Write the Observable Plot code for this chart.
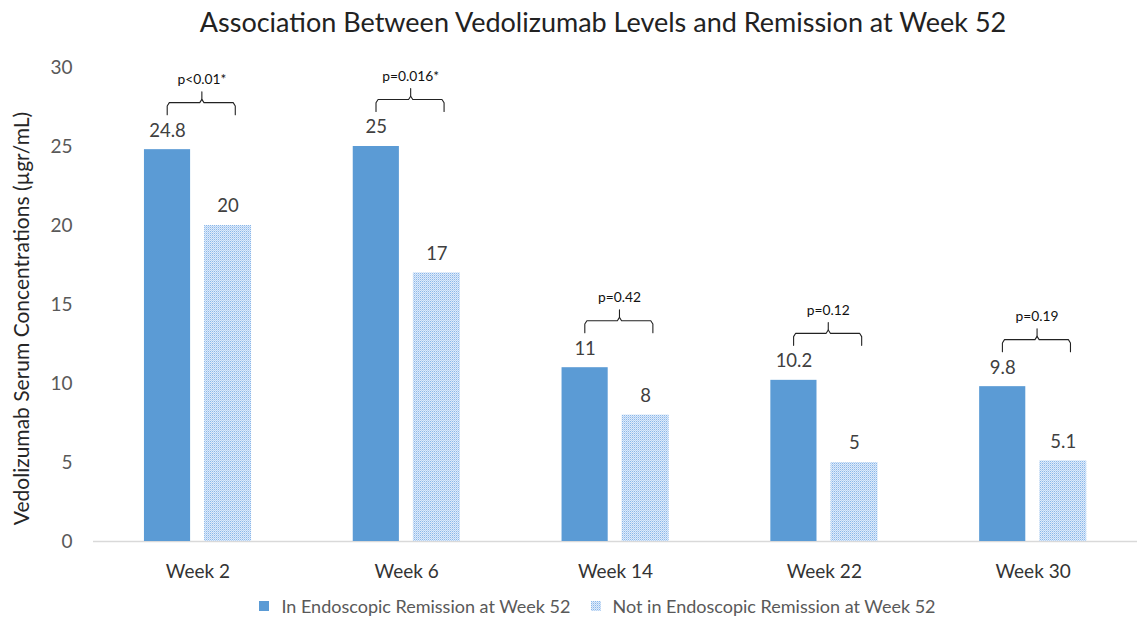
<!DOCTYPE html>
<html><head><meta charset="utf-8">
<script src="https://cdn.jsdelivr.net/npm/d3@7"></script>
<script src="https://cdn.jsdelivr.net/npm/@observablehq/plot@0.6"></script>
<style>
body{margin:0;background:#fff;font-family:Lato,sans-serif;}
#wrap{position:relative;width:1137px;height:622px;overflow:hidden;}
#title{height:45px;line-height:44px;text-align:center;font-size:27px;color:#222;padding-left:69px;box-sizing:border-box;}
#chart svg{display:block;}
#legend{position:absolute;top:590px;left:58px;right:0;height:32px;display:flex;justify-content:center;align-items:center;font-size:18px;color:#595959;}
.sw{width:10px;height:10px;margin-right:12px;display:inline-block;}
.item{display:flex;align-items:center;margin:0 10px;}
</style></head>
<body>
<div id="wrap">
<div id="title">Association Between Vedolizumab Levels and Remission at Week 52</div>
<div id="chart"></div>
<div id="legend"></div>
</div>
<script>
const weeks = ["Week 2", "Week 6", "Week 14", "Week 22", "Week 30"];
const inRemission = [24.8, 25, 11, 10.2, 9.8];
const notInRemission = [20, 17, 8, 5, 5.1];
const pValues = ["p<0.01*", "p=0.016*", "p=0.42", "p=0.12", "p=0.19"];
const seriesNames = ["In Endoscopic Remission at Week 52", "Not in Endoscopic Remission at Week 52"];
const yLabel = "Vedolizumab Serum Concentrations (µgr/mL)";

const darkColor = "#5B9BD5";
const lightFill = "url(#dots)";

// layout offsets within each week band (in band units)
const bandOff = [[-0.256, -0.035], [0.032, 0.257]];

const rows = [];
weeks.forEach((w, i) => {
  rows.push({week: w, i, s: 0, value: inRemission[i]});
  rows.push({week: w, i, s: 1, value: notInRemission[i]});
});

// curly braces built from each week's taller bar
const L = -0.147, R = 0.179, C = 0.019;
const braces = [];
weeks.forEach((w, i) => {
  const m = Math.max(inRemission[i], notInRemission[i]);
  const left = [[L, 0], [L, 0.55], [L + 0.01, 0.76], [C - 0.01, 0.76], [C, 0.97], [C, 1.45]];
  const right = [[C, 0.97], [C + 0.01, 0.76], [R - 0.01, 0.76], [R, 0.55], [R, 0]];
  left.forEach(([dx, dy]) => braces.push({z: i * 2, x: i + dx, y: m + dy}));
  right.forEach(([dx, dy]) => braces.push({z: i * 2 + 1, x: i + dx, y: m + dy}));
});
const pRows = weeks.map((w, i) => ({i, m: Math.max(inRemission[i], notInRemission[i]), p: pValues[i]}));

const plot = Plot.plot({
  width: 1137,
  height: 545,
  marginTop: 22,
  marginBottom: 49,
  marginLeft: 93,
  marginRight: 0,
  x: {domain: [-0.5, 4.5]},
  y: {domain: [0, 30]},
  style: {fontFamily: "Lato, sans-serif", fontSize: "18px", background: "#fff"},
  marks: [
    Plot.axisY({ticks: d3.range(0, 31, 5), tickSize: 0, tickPadding: 21, label: null, color: "#595959", fontSize: 19}),
    Plot.axisX({ticks: d3.range(weeks.length), tickFormat: i => weeks[i], tickSize: 0, tickPadding: 23, label: null, color: "#333", fontSize: 19}),
    Plot.ruleY([0], {stroke: "#d9d9d9", strokeWidth: 1.3}),
    Plot.rectY(rows, {
      x1: d => d.i + bandOff[d.s][0],
      x2: d => d.i + bandOff[d.s][1],
      y: "value",
      fill: d => d.s === 0 ? darkColor : lightFill
    }),
    Plot.text(rows, {
      x: d => d.i + (bandOff[d.s][0] + bandOff[d.s][1]) / 2,
      y: "value",
      text: d => String(d.value),
      dy: -19,
      fontSize: 18.5,
      fill: "#404040"
    }),
    Plot.line(braces, {x: "x", y: "y", z: "z", stroke: "#222", strokeWidth: 1.1, dy: -35}),
    Plot.text(pRows, {x: d => d.i + C, y: "m", text: "p", dy: -70, fontSize: 13.8, fill: "#111"}),
    Plot.text([yLabel], {text: d => d, frameAnchor: "left", textAnchor: "middle", rotate: -90, dx: -71, dy: 14, fontSize: 21, fill: "#262626"})
  ]
});

const defs = d3.select(plot).insert("defs", ":first-child");
const pat = defs.append("pattern").attr("id", "dots").attr("patternUnits", "userSpaceOnUse")
  .attr("width", 2).attr("height", 2);
pat.append("rect").attr("width", 2).attr("height", 2).attr("fill", "#dfebfa");
pat.append("rect").attr("width", 1).attr("height", 1).attr("fill", "#89b7ea");
pat.append("rect").attr("x", 1).attr("y", 1).attr("width", 1).attr("height", 1).attr("fill", "#b9d4f3");

document.getElementById("chart").appendChild(plot);

const legend = d3.select("#legend");
seriesNames.forEach((name, k) => {
  const it = legend.append("div").attr("class", "item");
  const sw = it.append("svg").attr("class", "sw").attr("width", 10).attr("height", 10);
  sw.append("rect").attr("width", 10).attr("height", 10).attr("fill", k === 0 ? darkColor : lightFill);
  it.append("span").text(name);
});
</script>
</body></html>
